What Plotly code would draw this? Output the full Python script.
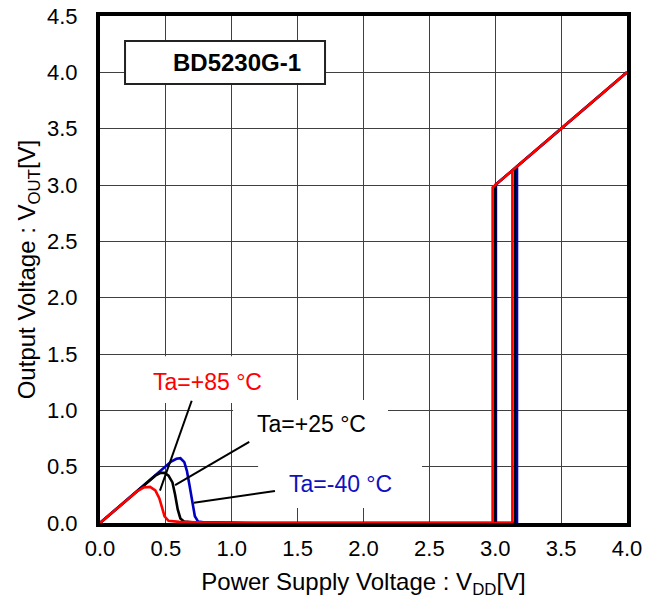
import plotly.graph_objects as go

# ---- data ----
tick_vals = [0.0, 0.5, 1.0, 1.5, 2.0, 2.5, 3.0, 3.5, 4.0, 4.5]

# Ta = -40 degC (blue)
blue_x = [0, 0.50, 0.54, 0.58, 0.61, 0.64, 0.66, 0.68, 0.70, 0.72, 0.745, 0.80, 1.00, 1.20,
          3.165, 3.165, 4.0, 3.005, 3.005]
blue_y = [0, 0.50, 0.545, 0.57, 0.575, 0.54, 0.46, 0.33, 0.18, 0.06, 0.012, 0.005, 0.002, 0,
          0, 3.165, 4.0, 3.005, 0]

# Ta = +25 degC (black)
black_x = [0, 0.42, 0.46, 0.49, 0.52, 0.55, 0.57, 0.59, 0.61, 0.64, 0.70, 0.90, 1.10,
           3.15, 3.15, 4.0, 3.0, 3.0]
black_y = [0, 0.42, 0.445, 0.445, 0.42, 0.36, 0.25, 0.12, 0.04, 0.012, 0.006, 0.002, 0,
           0, 3.15, 4.0, 3.0, 0]

# Ta = +85 degC (red)
red_x = [0, 0.28, 0.33, 0.38, 0.42, 0.45, 0.47, 0.49, 0.52, 0.60, 0.80, 1.00,
         3.13, 3.13, 4.0, 2.98, 2.98]
red_y = [0, 0.28, 0.315, 0.32, 0.29, 0.22, 0.14, 0.06, 0.02, 0.01, 0.004, 0,
         0, 3.13, 4.0, 2.98, 0]

label_texts = ["Ta=+85 °C", "Ta=+25 °C", "Ta=-40 °C"]
label_colors = ["#FF0000", "#000000", "#1010C0"]
label_x = [0.816, 1.605, 1.824]
label_y = [1.251, 0.879, 0.349]

# leader lines: (x0, y0, x1, y1)
leader_lines = [(0.696, 1.085, 0.455, 0.287),
                (1.133, 0.72, 0.57, 0.337),
                (1.328, 0.284, 0.713, 0.18)]
# white boxes behind labels: (x0, y0, x1, y1)
label_boxes = [(0.228, 1.065, 1.404, 1.48),
               (1.01, 0.63, 2.186, 1.092),
               (1.20, 0.133, 2.444, 0.63)]

FONT = "Liberation Sans, Arial, sans-serif"

fig = go.Figure()
fig.add_trace(go.Scatter(x=blue_x, y=blue_y, mode="lines",
                         line=dict(color="#0000C0", width=2.6), showlegend=False))
fig.add_trace(go.Scatter(x=black_x, y=black_y, mode="lines",
                         line=dict(color="#000000", width=2.6), showlegend=False))
fig.add_trace(go.Scatter(x=red_x, y=red_y, mode="lines",
                         line=dict(color="#FF0000", width=2.6), showlegend=False))

shapes = []
for (x0, y0, x1, y1) in label_boxes:
    shapes.append(dict(type="rect", xref="x", yref="y", x0=x0, y0=y0, x1=x1, y1=y1,
                       fillcolor="white", line=dict(width=0), layer="between"))
for (x0, y0, x1, y1) in leader_lines:
    shapes.append(dict(type="line", xref="x", yref="y", x0=x0, y0=y0, x1=x1, y1=y1,
                       line=dict(color="black", width=2), layer="above"))
# title box
shapes.append(dict(type="rect", xref="x", yref="y", x0=0.19, y0=3.896, x1=1.708, y1=4.278,
                   fillcolor="white", line=dict(color="#222222", width=2), layer="between"))

annotations = []
for t, c, x, y in zip(label_texts, label_colors, label_x, label_y):
    annotations.append(dict(text=t, x=x, y=y, xref="x", yref="y", showarrow=False,
                            font=dict(family=FONT, size=23, color=c)))
annotations.append(dict(text="<b>BD5230G-1</b>", x=1.04, y=4.087, xref="x", yref="y",
                        showarrow=False, font=dict(family=FONT, size=24, color="black")))

fig.update_layout(
    width=659, height=608,
    margin=dict(l=100, r=32, t=16, b=85),
    paper_bgcolor="white", plot_bgcolor="white",
    font=dict(family=FONT, size=22, color="black"),
    shapes=shapes, annotations=annotations,
)
fig.update_xaxes(range=[0, 4], tickvals=tick_vals[:9], tickformat=".1f",
                 showgrid=True, gridcolor="#404040", gridwidth=1.4,
                 showline=True, linecolor="black", linewidth=4, mirror=True,
                 ticks="", ticklabelstandoff=3, zeroline=False, automargin=False,
                 title=dict(text="Power Supply Voltage : V<sub>DD</sub>[V]",
                            font=dict(size=24), standoff=14))
fig.update_yaxes(range=[0, 4.5], tickvals=tick_vals, tickformat=".1f",
                 showgrid=True, gridcolor="#404040", gridwidth=1.4,
                 showline=True, linecolor="black", linewidth=4, mirror=True,
                 ticks="", ticklabelstandoff=14, zeroline=False, automargin=False,
                 title=dict(text="Output Voltage : V<sub>OUT</sub>[V]",
                            font=dict(size=24), standoff=6))

fig.write_html("out.html",
               config={"displayModeBar": False},
               post_script="document.body.style.margin='0';document.body.style.overflow='hidden';")
